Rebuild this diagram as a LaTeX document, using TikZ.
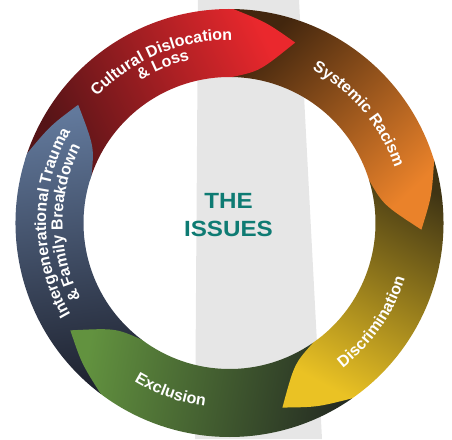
\documentclass[tikz,border=0pt]{standalone}
\usepackage{fontspec}
\setmainfont{Liberation Sans}
\usetikzlibrary{decorations.text}

\definecolor{issueteal}{HTML}{0E7B73}
\definecolor{stripgrey}{HTML}{E6E6E6}
\definecolor{bluetail}{HTML}{1F2330}
\definecolor{bluetip}{HTML}{62799C}
\definecolor{redtail}{HTML}{551417}
\definecolor{redtip}{HTML}{EA282D}
\definecolor{browntail}{HTML}{42260E}
\definecolor{browntip}{HTML}{EA822A}
\definecolor{goldtail}{HTML}{3F3414}
\definecolor{goldtip}{HTML}{EAC224}
\definecolor{greentail}{HTML}{252C22}
\definecolor{greentip}{HTML}{62923F}

\newcommand\lblfont{\fontsize{16pt}{19pt}\selectfont\bfseries}
\def\Ro{214pt}
\def\Ri{146pt}
\def\Rt{192pt}

\tikzset{
  blueseg/.style={shade, bottom color=bluetail, top color=bluetip, shading angle=7.5},
  redseg/.style={shade, bottom color=redtail, top color=redtip, shading angle=-64.5},
  brownseg/.style={shade, bottom color=browntail, top color=browntip, shading angle=-136.5},
  goldseg/.style={shade, bottom color=goldtail, top color=goldtip, shading angle=151.5},
  greenseg/.style={shade, bottom color=greentail, top color=greentip, shading angle=79.5},
  ringlabel/.style={decorate, decoration={text along path, text align=center,
    text color=white, text={|\lblfont|#1}}},
  issuetext/.style={anchor=base, text=issueteal, xscale=1.1,
    font=\fontsize{22pt}{26pt}\selectfont\bfseries}
}

\begin{document}
\begin{tikzpicture}[x=1pt, y=1pt]
  \useasboundingbox (-229.5,-216) rectangle (222.5,223);

  % grey strip behind the ring
  \fill[stripgrey] (-31.5,223) -- (69.5,223) -- (92.5,-216) -- (-34.5,-216) -- cycle;

  % ring segments, tip angles 72 degrees apart
  \foreach \tip/\sty in {142/blueseg, -146/greenseg, -74/goldseg, -2/brownseg, 70/redseg}{
    \path[\sty] ({\tip+91}:\Ro) arc[start angle={\tip+91}, end angle={\tip+19}, radius=\Ro]
      .. controls ({\tip+9.5}:204pt) .. ({\tip}:\Rt)
      .. controls ({\tip+8.7}:155pt) .. ({\tip+19}:\Ri)
      arc[start angle={\tip+19}, end angle={\tip+91}, radius=\Ri] -- cycle;
  }
  % blue head again, on top of the red tail
  \begin{scope}
    \clip (0,0) -- (139:240pt) arc[start angle=139, end angle=163, radius=240pt] -- cycle;
    \path[blueseg] (233:\Ro) arc[start angle=233, end angle=161, radius=\Ro]
      .. controls (151.5:204pt) .. (142:\Rt)
      .. controls (150.7:155pt) .. (161:\Ri)
      arc[start angle=161, end angle=233, radius=\Ri] -- cycle;
  \end{scope}

  % labels along the ring
  \path[ringlabel={Intergenerational Trauma}] (230:183.5pt) arc[start angle=230, end angle=130, radius=183.5pt];
  \path[ringlabel={{\&} Family Breakdown}] (230:167pt) arc[start angle=230, end angle=130, radius=167pt];
  \path[ringlabel={Cultural Dislocation}] (162.8:183pt) arc[start angle=162.8, end angle=62.8, radius=183pt];
  \path[ringlabel={{\&} Loss}] (162.8:168pt) arc[start angle=162.8, end angle=62.8, radius=168pt];
  \path[ringlabel={Systemic Racism}] (90:174pt) arc[start angle=90, end angle=-10, radius=174pt];
  \path[ringlabel={Discrimination}] (-84.7:184pt) arc[start angle=-84.7, end angle=15.3, radius=184pt];
  \path[ringlabel={Exclusion}] (-159.3:185pt) arc[start angle=-159.3, end angle=-59.3, radius=185pt];

  % centre title
  \node[issuetext] (the) at (-1,15) {THE};
  \node[issuetext] (issues) at (-1,-13) {ISSUES};
\end{tikzpicture}
\end{document}
